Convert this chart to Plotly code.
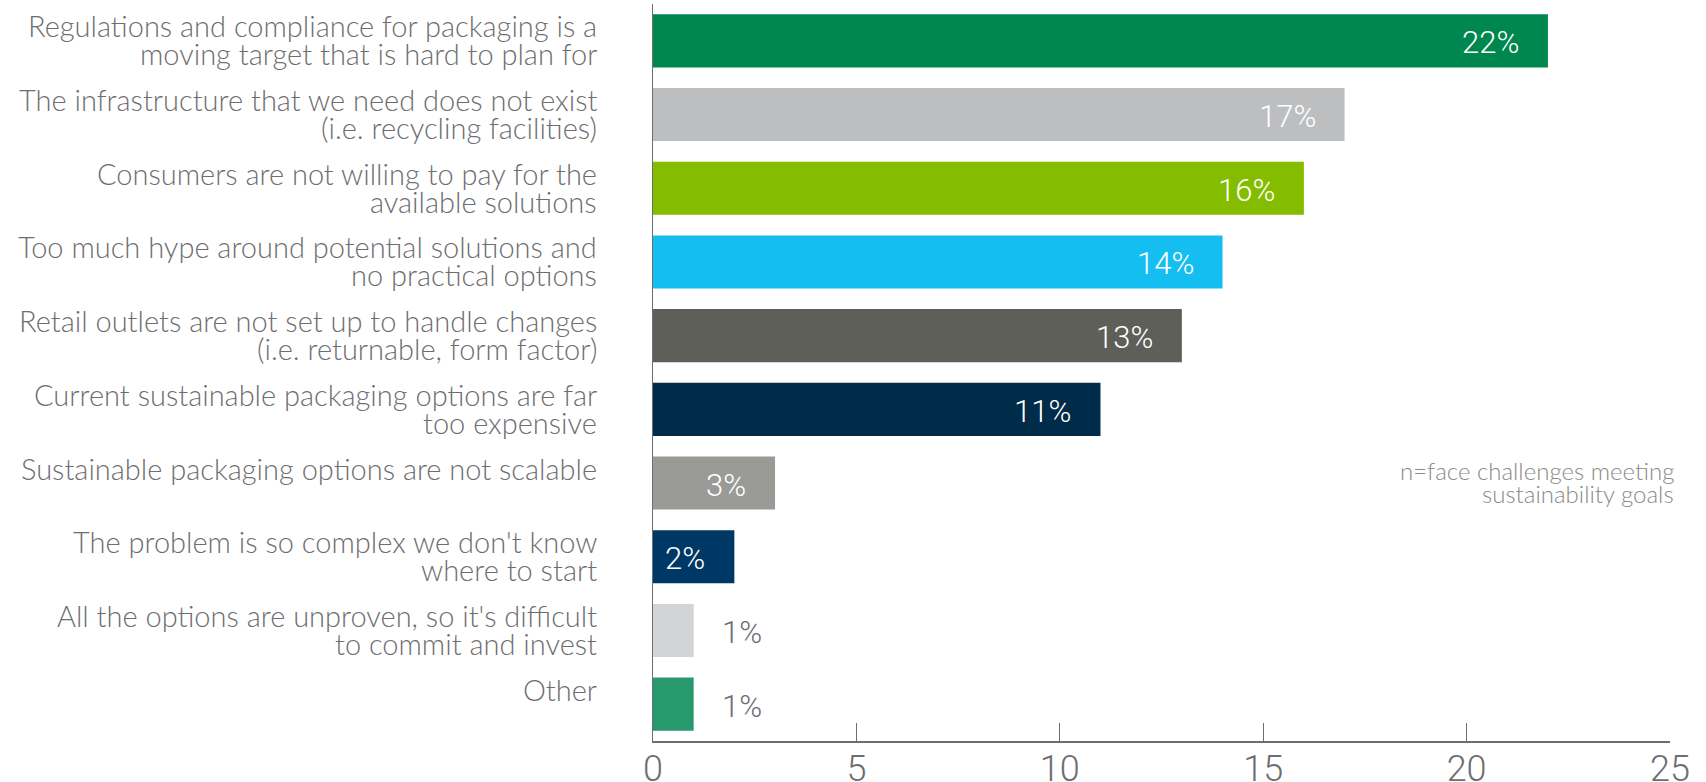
import plotly.graph_objects as go

categories = [
    "Regulations and compliance for packaging is a<br>moving target that is hard to plan for",
    "The infrastructure that we need does not exist<br>(i.e. recycling facilities)",
    "Consumers are not willing to pay for the<br>available solutions",
    "Too much hype around potential solutions and<br>no practical options",
    "Retail outlets are not set up to handle changes<br>(i.e. returnable, form factor)",
    "Current sustainable packaging options are far<br>too expensive",
    "Sustainable packaging options are not scalable",
    "The problem is so complex we don't know<br>where to start",
    "All the options are unproven, so it's difficult<br>to commit and invest",
    "Other",
]
values = [22, 17, 16, 14, 13, 11, 3, 2, 1, 1]
bar_colors = ["#00874F", "#BDBEC0", "#84BD00", "#14BEF0", "#5E5F58",
              "#002B49", "#9A9A96", "#003865", "#D3D4D6", "#27996C"]
x_ticks = [0, 5, 10, 15, 20, 25]
note_lines = ["n=face challenges meeting", "sustainability goals"]

LABEL_FONT = "Lato Light, Lato"
NUM_FONT = "Roboto Light, Roboto"
GRAY = "#6D6E71"
AXIS = "#6D6E71"

fig = go.Figure()
fig.add_trace(go.Bar(
    x=values, y=categories, orientation="h",
    marker=dict(color=bar_colors, line=dict(width=0)),
    width=0.72, hoverinfo="skip",
))

# value labels
for cat, v in zip(categories, values):
    inside = v >= 2
    fig.add_annotation(
        x=v, y=cat, xref="x", yref="y",
        text=f"{v}%", showarrow=False,
        xanchor="right" if inside else "left",
        xshift=-27 if inside else 26, yshift=-2,
        font=dict(family=NUM_FONT, size=31, weight=300,
                  color="#FFFFFF" if inside else GRAY),
    )

# category labels, one annotation per line for tight line spacing
LINE_STEP = 28
for cat in categories:
    lines = cat.split("<br>")
    for i, line in enumerate(lines):
        fig.add_annotation(
            x=0, y=cat, xref="paper", yref="y",
            text=line, showarrow=False, xanchor="right", yanchor="middle",
            xshift=-54, yshift=15 - i * LINE_STEP,
            font=dict(family=LABEL_FONT, size=29, color=GRAY, weight=300),
        )

# note
for i, line in enumerate(note_lines):
    fig.add_annotation(
        x=1, y=0.365, xref="paper", yref="paper",
        text=line, showarrow=False, xanchor="right", yanchor="middle",
        xshift=6, yshift=1 - i * 23,
        font=dict(family=LABEL_FONT, size=24, color="#8A8A86", weight=300),
    )

fig.update_layout(
    width=1706, height=782,
    margin=dict(l=653, r=36, t=4, b=41, autoexpand=False),
    paper_bgcolor="white", plot_bgcolor="white",
    showlegend=False,
    font=dict(family=LABEL_FONT, color=GRAY),
    xaxis=dict(
        range=[0, 25], tickvals=x_ticks, ticks="inside", ticklen=18,
        tickcolor=AXIS, tickwidth=1, showline=True, linecolor=AXIS, linewidth=1.5,
        showgrid=False, zeroline=False, automargin=False,
        tickfont=dict(family=NUM_FONT, size=36, color=GRAY, weight=300),
        ticklabelstandoff=-5,
    ),
    yaxis=dict(
        categoryorder="array", categoryarray=categories,
        range=[9.5, -0.5], showline=True, linecolor=AXIS, linewidth=1,
        ticks="", showgrid=False, zeroline=False, automargin=False,
        showticklabels=False,
    ),
)

fig.write_html("out.html", config={"displayModeBar": False},
               post_script="document.body.style.margin='0';document.body.style.padding='0';")
